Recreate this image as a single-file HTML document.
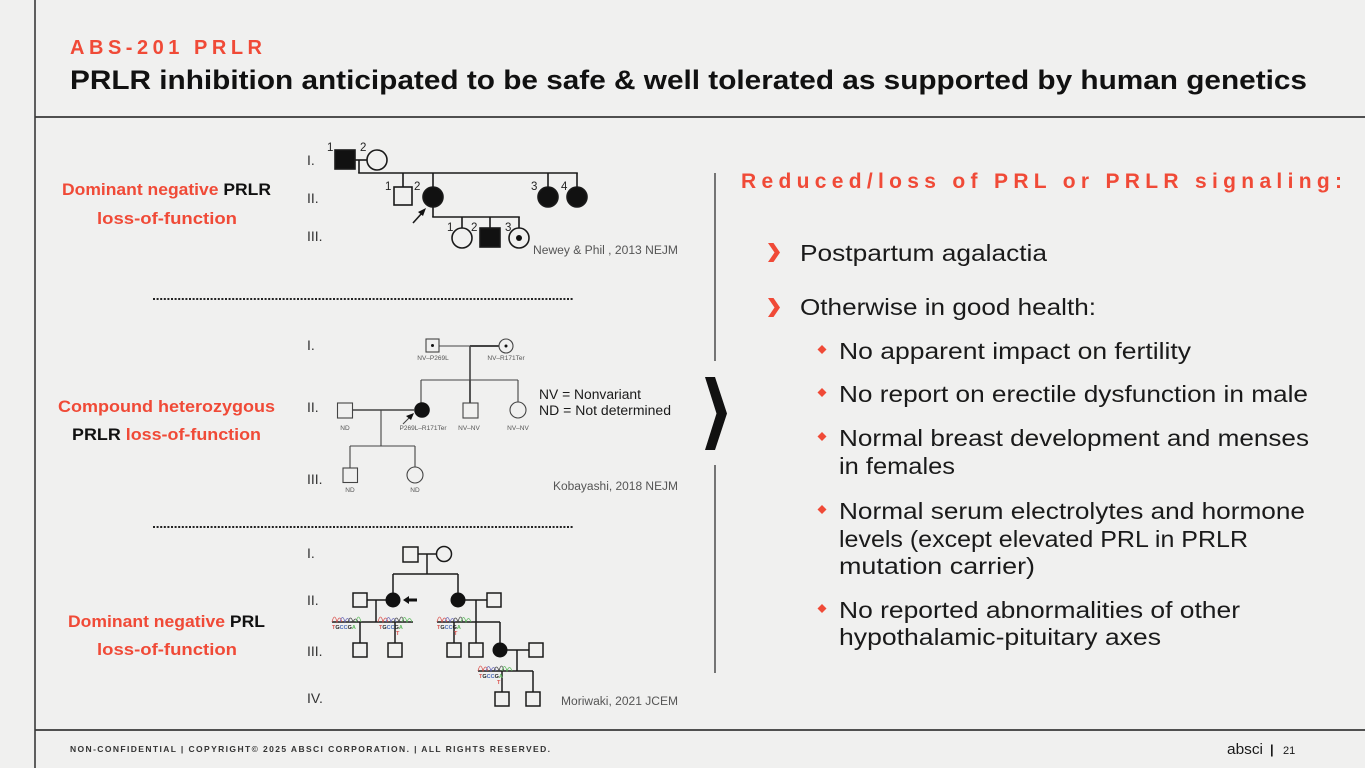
<!DOCTYPE html>
<html><head><meta charset="utf-8"><style>
html,body{margin:0;padding:0;background:#f0f0ef;}
svg{display:block;}
text{font-family:"Liberation Sans",Arial,sans-serif;}
</style></head><body>
<svg width="1365" height="768" viewBox="0 0 1365 768" xmlns="http://www.w3.org/2000/svg">
<rect width="1365" height="768" fill="#f0f0ef"/>
<!-- frame lines -->
<line x1="35" y1="0" x2="35" y2="768" stroke="#3a3a3a" stroke-width="1.6"/>
<line x1="35" y1="117" x2="1365" y2="117" stroke="#3a3a3a" stroke-width="1.8"/>
<line x1="35" y1="730" x2="1365" y2="730" stroke="#3a3a3a" stroke-width="1.8"/>

<!-- header -->
<text x="70" y="54" font-size="20" font-weight="bold" fill="#f04a37" textLength="192" lengthAdjust="spacing">ABS-201 PRLR</text>
<text x="70" y="89" font-size="27" font-weight="bold" fill="#111" textLength="1237" lengthAdjust="spacingAndGlyphs">PRLR inhibition anticipated to be safe &amp; well tolerated as supported by human genetics</text>

<!-- left labels -->
<text x="62" y="195" font-size="16.5" font-weight="bold" textLength="209" lengthAdjust="spacingAndGlyphs"><tspan fill="#f04a37">Dominant negative </tspan><tspan fill="#111">PRLR</tspan></text>
<text x="97" y="224" font-size="16.5" font-weight="bold" fill="#f04a37" textLength="140" lengthAdjust="spacingAndGlyphs">loss-of-function</text>

<text x="58" y="412" font-size="16.5" font-weight="bold" fill="#f04a37" textLength="217" lengthAdjust="spacingAndGlyphs">Compound heterozygous</text>
<text x="72" y="440" font-size="16.5" font-weight="bold" textLength="189" lengthAdjust="spacingAndGlyphs"><tspan fill="#111">PRLR </tspan><tspan fill="#f04a37">loss-of-function</tspan></text>

<text x="68" y="627" font-size="16.5" font-weight="bold" textLength="197" lengthAdjust="spacingAndGlyphs"><tspan fill="#f04a37">Dominant negative </tspan><tspan fill="#111">PRL</tspan></text>
<text x="97" y="655" font-size="16.5" font-weight="bold" fill="#f04a37" textLength="140" lengthAdjust="spacingAndGlyphs">loss-of-function</text>

<!-- dotted separators -->
<line x1="153" y1="299" x2="573" y2="299" stroke="#222" stroke-width="2" stroke-dasharray="2 1.6"/>
<line x1="153" y1="527" x2="573" y2="527" stroke="#222" stroke-width="2" stroke-dasharray="2 1.6"/>

<!-- ========== Pedigree 1 ========== -->
<g font-size="14" fill="#333">
<text x="307" y="165">I.</text>
<text x="307" y="203">II.</text>
<text x="307" y="241">III.</text>
</g>
<g font-size="11.5" fill="#222">
<text x="327" y="151">1</text>
<text x="360" y="151">2</text>
<text x="385" y="190">1</text>
<text x="414" y="190">2</text>
<text x="531" y="190">3</text>
<text x="561" y="190">4</text>
<text x="447" y="231">1</text>
<text x="471" y="231">2</text>
<text x="505" y="231">3</text>
</g>
<g stroke="#1a1a1a" stroke-width="1.6" fill="none">
<line x1="355" y1="160" x2="367" y2="160"/>
<line x1="359" y1="160" x2="359" y2="173"/>
<line x1="358.2" y1="173" x2="577.8" y2="173"/>
<line x1="403" y1="173" x2="403" y2="187"/>
<line x1="433" y1="173" x2="433" y2="187"/>
<line x1="548" y1="173" x2="548" y2="187"/>
<line x1="577" y1="173" x2="577" y2="187"/>
<line x1="433" y1="206" x2="433" y2="217"/>
<line x1="432.2" y1="217" x2="519.8" y2="217"/>
<line x1="462" y1="217" x2="462" y2="228"/>
<line x1="490" y1="217" x2="490" y2="228"/>
<line x1="519" y1="217" x2="519" y2="228"/>
<rect x="335" y="150" width="20" height="19" fill="#111"/>
<circle cx="377" cy="160" r="10"/>
<rect x="394" y="187" width="18" height="18"/>
<circle cx="433" cy="197" r="10" fill="#111"/>
<circle cx="548" cy="197" r="10" fill="#111"/>
<circle cx="577" cy="197" r="10" fill="#111"/>
<circle cx="462" cy="238" r="10"/>
<rect x="480" y="228" width="20" height="19" fill="#111"/>
<circle cx="519" cy="238" r="10"/>
<line x1="413" y1="223" x2="422" y2="213"/>
</g>
<circle cx="519" cy="238" r="3" fill="#111"/>
<polygon points="426,208 418,212 423,216" fill="#111"/>
<text x="533" y="254" font-size="11.5" fill="#555" textLength="145" lengthAdjust="spacingAndGlyphs">Newey &amp; Phil , 2013 NEJM</text>

<!-- ========== Pedigree 2 ========== -->
<g font-size="14" fill="#333">
<text x="307" y="350">I.</text>
<text x="307" y="412">II.</text>
<text x="307" y="484">III.</text>
</g>
<g stroke="#444" stroke-width="1.1" fill="none">
<line x1="439" y1="346" x2="499" y2="346"/>
<line x1="470" y1="346" x2="499" y2="346" stroke-width="2"/>
<line x1="470" y1="346" x2="470" y2="380" stroke-width="1.6"/>
<line x1="421" y1="380" x2="518" y2="380"/>
<line x1="421" y1="380" x2="421" y2="402.5"/>
<line x1="470" y1="380" x2="470" y2="403"/>
<line x1="470" y1="380" x2="470" y2="403" stroke-width="1.8"/>
<line x1="518" y1="380" x2="518" y2="402"/>
<line x1="353" y1="410" x2="414" y2="410" stroke-width="1.5"/>
<line x1="381" y1="410" x2="381" y2="446"/>
<line x1="350" y1="446" x2="415" y2="446"/>
<line x1="350" y1="446" x2="350" y2="468"/>
<line x1="415" y1="446" x2="415" y2="467"/>
<rect x="426" y="339" width="13" height="13"/>
<circle cx="506" cy="346" r="7"/>
<rect x="337.5" y="403" width="15" height="15"/>
<rect x="463" y="403" width="15" height="15"/>
<circle cx="518" cy="410" r="8"/>
<rect x="343" y="468" width="14.5" height="14.5"/>
<circle cx="415" cy="475" r="8"/>
<line x1="403" y1="424" x2="411" y2="416"/>
</g>
<circle cx="422" cy="410" r="7.8" fill="#111"/>
<circle cx="432.5" cy="345.5" r="1.5" fill="#111"/>
<circle cx="506" cy="346" r="1.5" fill="#111"/>
<polygon points="414,413 406,416 411,420" fill="#111"/>
<g font-size="6.5" fill="#555" text-anchor="middle">
<text x="433" y="360">NV–P269L</text>
<text x="506" y="360">NV–R171Ter</text>
<text x="345" y="430">ND</text>
<text x="423" y="430">P269L–R171Ter</text>
<text x="469" y="430">NV–NV</text>
<text x="518" y="430">NV–NV</text>
<text x="350" y="492">ND</text>
<text x="415" y="492">ND</text>
</g>
<text x="539" y="399" font-size="13.5" fill="#1a1a1a" textLength="102" lengthAdjust="spacingAndGlyphs">NV = Nonvariant</text>
<text x="539" y="415" font-size="13.5" fill="#1a1a1a" textLength="132" lengthAdjust="spacingAndGlyphs">ND = Not determined</text>
<text x="553" y="490" font-size="11.5" fill="#555" textLength="125" lengthAdjust="spacingAndGlyphs">Kobayashi, 2018 NEJM</text>

<!-- ========== Pedigree 3 ========== -->
<g font-size="14" fill="#333">
<text x="307" y="558">I.</text>
<text x="307" y="605">II.</text>
<text x="307" y="656">III.</text>
<text x="307" y="703">IV.</text>
</g>
<g stroke="#1a1a1a" stroke-width="1.5" fill="none">
<line x1="418" y1="554" x2="436.5" y2="554"/>
<line x1="427" y1="554" x2="427" y2="574"/>
<line x1="393" y1="574" x2="458" y2="574"/>
<line x1="393" y1="574" x2="393" y2="593"/>
<line x1="458" y1="574" x2="458" y2="593"/>
<line x1="367" y1="600" x2="386" y2="600"/>
<line x1="376" y1="600" x2="376" y2="622"/>
<line x1="332" y1="622" x2="413" y2="622"/>
<line x1="360" y1="622" x2="360" y2="643"/>
<line x1="395" y1="622" x2="395" y2="643"/>
<line x1="465" y1="600" x2="487" y2="600"/>
<line x1="476" y1="600" x2="476" y2="622"/>
<line x1="437" y1="622" x2="500" y2="622"/>
<line x1="454" y1="622" x2="454" y2="643"/>
<line x1="476" y1="622" x2="476" y2="643"/>
<line x1="500" y1="622" x2="500" y2="643"/>
<line x1="507" y1="650" x2="529" y2="650"/>
<line x1="517" y1="650" x2="517" y2="671"/>
<line x1="478" y1="671" x2="533" y2="671"/>
<line x1="502" y1="671" x2="502" y2="692"/>
<line x1="533" y1="671" x2="533" y2="692"/>
<rect x="403" y="547" width="15" height="15"/>
<circle cx="444" cy="554" r="7.5"/>
<rect x="353" y="593" width="14" height="14"/>
<rect x="487" y="593" width="14" height="14"/>
<rect x="353" y="643" width="14" height="14"/>
<rect x="388" y="643" width="14" height="14"/>
<rect x="447" y="643" width="14" height="14"/>
<rect x="469" y="643" width="14" height="14"/>
<rect x="529" y="643" width="14" height="14"/>
<rect x="495" y="692" width="14" height="14"/>
<rect x="526" y="692" width="14" height="14"/>
</g>
<circle cx="393" cy="600" r="7.5" fill="#111"/>
<circle cx="458" cy="600" r="7.5" fill="#111"/>
<circle cx="500" cy="650" r="7.5" fill="#111"/>
<polygon points="403,600 409,596 409,598.5 417,598.5 417,601.5 409,601.5 409,604" fill="#111"/>

<!-- chromatogram traces -->
<g fill="none" stroke-width="0.8">
<path d="M332,622 Q334.5,612 337,622 Q339.5,614 342,622" stroke="#d9534f"/>
<path d="M340,622 Q342.5,613 345,622 Q347.5,615 350,622" stroke="#6a6ab8"/>
<path d="M348,622 Q350.5,614 353,622 Q355.5,616 358,622" stroke="#444"/>
<path d="M356,622 Q358.5,612 361,622" stroke="#5cb85c"/>
<path d="M378,622 Q380.5,612 383,622 Q385.5,614 388,622" stroke="#d9534f"/>
<path d="M386,622 Q388.5,613 391,622 Q393.5,615 396,622" stroke="#6a6ab8"/>
<path d="M394,622 Q396.5,614 399,622 Q401.5,612 404,622" stroke="#444"/>
<path d="M402,622 Q404.5,613 407,622 Q409.5,615 412,622" stroke="#5cb85c"/>
<path d="M437,622 Q439.5,612 442,622 Q444.5,614 447,622" stroke="#d9534f"/>
<path d="M445,622 Q447.5,613 450,622 Q452.5,615 455,622" stroke="#6a6ab8"/>
<path d="M453,622 Q455.5,614 458,622 Q460.5,612 463,622" stroke="#444"/>
<path d="M461,622 Q463.5,613 466,622 Q468.5,615 471,622" stroke="#5cb85c"/>
<path d="M478,671 Q480.5,661 483,671 Q485.5,663 488,671" stroke="#d9534f"/>
<path d="M486,671 Q488.5,662 491,671 Q493.5,664 496,671" stroke="#6a6ab8"/>
<path d="M494,671 Q496.5,663 499,671 Q501.5,661 504,671" stroke="#444"/>
<path d="M502,671 Q504.5,662 507,671 Q509.5,664 512,671" stroke="#5cb85c"/>
</g>
<g font-size="5.5" font-weight="bold">
<text x="332" y="629"><tspan fill="#d9534f">T</tspan><tspan fill="#222">G</tspan><tspan fill="#4a6ab8">C</tspan><tspan fill="#4a6ab8">C</tspan><tspan fill="#222">G</tspan><tspan fill="#5cb85c">A</tspan></text>
<text x="379" y="629"><tspan fill="#d9534f">T</tspan><tspan fill="#222">G</tspan><tspan fill="#4a6ab8">C</tspan><tspan fill="#4a6ab8">C</tspan><tspan fill="#222">G</tspan><tspan fill="#5cb85c">A</tspan></text>
<text x="437" y="629"><tspan fill="#d9534f">T</tspan><tspan fill="#222">G</tspan><tspan fill="#4a6ab8">C</tspan><tspan fill="#4a6ab8">C</tspan><tspan fill="#222">G</tspan><tspan fill="#5cb85c">A</tspan></text>
<text x="479" y="678"><tspan fill="#d9534f">T</tspan><tspan fill="#222">G</tspan><tspan fill="#4a6ab8">C</tspan><tspan fill="#4a6ab8">C</tspan><tspan fill="#222">G</tspan><tspan fill="#5cb85c">A</tspan></text>
<text x="396" y="635" fill="#d9534f">T</text>
<text x="454" y="635" fill="#d9534f">T</text>
<text x="497" y="684" fill="#d9534f">T</text>
</g>
<text x="561" y="705" font-size="11.5" fill="#555" textLength="117" lengthAdjust="spacingAndGlyphs">Moriwaki, 2021 JCEM</text>

<!-- center divider & chevron -->
<line x1="715" y1="173" x2="715" y2="361" stroke="#333" stroke-width="1.3"/>
<line x1="715" y1="465" x2="715" y2="673" stroke="#333" stroke-width="1.3"/>
<polygon points="705,377 715,377 727,413.5 715,450 705,450 716.5,413.5" fill="#111"/>

<!-- right panel -->
<text x="741" y="188" font-size="21" font-weight="bold" fill="#f04a37" textLength="601" lengthAdjust="spacing">Reduced/loss of PRL or PRLR signaling:</text>

<polygon points="768,243 773.5,243 780,252.5 773.5,262 768,262 774.5,252.5" fill="#f04a37"/>
<polygon points="768,298 773.5,298 780,307.5 773.5,317 768,317 774.5,307.5" fill="#f04a37"/>

<g font-size="23" fill="#1a1a1a">
<text x="800" y="261" textLength="247" lengthAdjust="spacingAndGlyphs">Postpartum agalactia</text>
<text x="800" y="315" textLength="296" lengthAdjust="spacingAndGlyphs">Otherwise in good health:</text>
<text x="839" y="359" textLength="352" lengthAdjust="spacingAndGlyphs">No apparent impact on fertility</text>
<text x="839" y="402" textLength="469" lengthAdjust="spacingAndGlyphs">No report on erectile dysfunction in male</text>
<text x="839" y="446" textLength="470" lengthAdjust="spacingAndGlyphs">Normal breast development and menses</text>
<text x="839" y="474" textLength="116" lengthAdjust="spacingAndGlyphs">in females</text>
<text x="839" y="519" textLength="466" lengthAdjust="spacingAndGlyphs">Normal serum electrolytes and hormone</text>
<text x="839" y="547" textLength="409" lengthAdjust="spacingAndGlyphs">levels (except elevated PRL in PRLR</text>
<text x="839" y="574" textLength="196" lengthAdjust="spacingAndGlyphs">mutation carrier)</text>
<text x="839" y="618" textLength="401" lengthAdjust="spacingAndGlyphs">No reported abnormalities of other</text>
<text x="839" y="645" textLength="322" lengthAdjust="spacingAndGlyphs">hypothalamic-pituitary axes</text>
</g>
<g fill="#f04a37">
<polygon points="822,345 826.5,349.5 822,354 817.5,349.5"/>
<polygon points="822,388 826.5,392.5 822,397 817.5,392.5"/>
<polygon points="822,432 826.5,436.5 822,441 817.5,436.5"/>
<polygon points="822,505 826.5,509.5 822,514 817.5,509.5"/>
<polygon points="822,604 826.5,608.5 822,613 817.5,608.5"/>
</g>

<!-- footer -->
<text x="70" y="752" font-size="8.5" font-weight="bold" fill="#333" textLength="480" lengthAdjust="spacing">NON-CONFIDENTIAL  |  COPYRIGHT© 2025 ABSCI CORPORATION.   |  ALL RIGHTS RESERVED.</text>
<text x="1227" y="754" font-size="15" fill="#1a1a1a" textLength="36" lengthAdjust="spacingAndGlyphs">absci</text>
<text x="1270" y="754" font-size="13" font-weight="bold" fill="#1a1a1a">|</text>
<text x="1283" y="754" font-size="11" fill="#1a1a1a">21</text>
</svg>
</body></html>
